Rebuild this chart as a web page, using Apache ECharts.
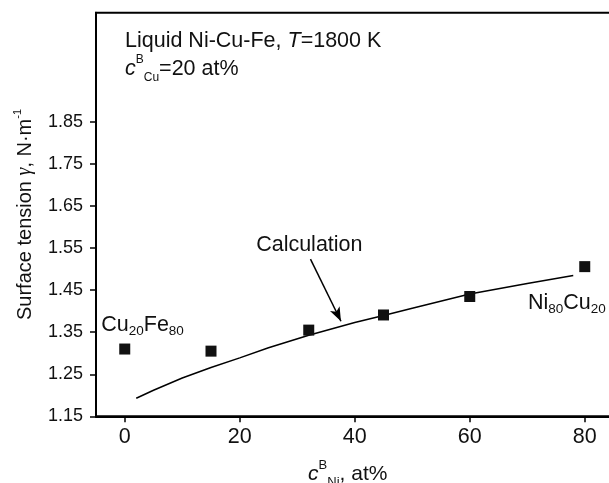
<!DOCTYPE html>
<html>
<head>
<meta charset="utf-8">
<script src="https://cdn.jsdelivr.net/npm/echarts@6/dist/echarts.min.js"></script>
<style>
  html, body { margin: 0; padding: 0; background: #fff; }
  #chart { width: 609px; height: 483px; }
</style>
</head>
<body>
<div id="chart"></div>
<script>
const FONT = '"Liberation Sans", Arial, Helvetica, sans-serif';
const INK = '#111';

// measured surface tension (squares)
const measuredNi = [0, 15, 32, 45, 60, 80];
const measuredGamma = [1.310, 1.305, 1.355, 1.391, 1.435, 1.506];

// calculated curve
const calcNi = [2, 5, 10, 15, 20, 25, 32, 40, 45, 50, 60, 70, 78];
const calcGamma = [1.193, 1.212, 1.241, 1.266, 1.289, 1.313, 1.343, 1.373, 1.390, 1.407, 1.441, 1.466, 1.485];

// tick labels
const xTicks = [0, 20, 40, 60, 80];
const yTicks = [1.15, 1.25, 1.35, 1.45, 1.55, 1.65, 1.75, 1.85];

// arrow pointing from the "Calculation" label to the curve
const arrowFrom = [32.3, 1.524];
const arrowTo = [37.6, 1.376];

// text annotations placed in data space
const noteX = [32.1, 3.1, 76.9];
const noteY = [1.558, 1.367, 1.419];
const noteText = [
  '{m|Calculation}',
  '{m|Cu}{s|20}{m|Fe}{s|80}',
  '{m|Ni}{s|80}{m|Cu}{s|20}'
];

const chart = echarts.init(document.getElementById('chart'), null, { renderer: 'canvas' });

const noteRich = {
  m: { fontFamily: FONT, fontSize: 21.5, color: INK, lineHeight: 26 },
  s: { fontFamily: FONT, fontSize: 13.5, color: INK, lineHeight: 12, verticalAlign: 'bottom' }
};

const option = {
  backgroundColor: '#fff',
  animation: false,
  grid: {
    left: 96, right: -4.5, top: 12.7, bottom: 66.7,
    show: true, borderColor: '#000', borderWidth: 2,
    outerBoundsMode: 'none'
  },
  xAxis: {
    type: 'value',
    min: -5,
    max: 85,
    splitLine: { show: false },
    axisLine: { onZero: false, lineStyle: { color: '#000', width: 2 } },
    axisTick: { customValues: xTicks, length: 6, lineStyle: { color: '#000', width: 1.5 } },
    axisLabel: {
      customValues: xTicks, margin: 10,
      fontFamily: FONT, fontSize: 21.5, color: INK
    },
    name: '{i|c}{sup|B}{sub|Ni}{m|, at%}',
    nameLocation: 'middle',
    nameGap: 43,
    nameTextStyle: {
      padding: [0, 14, 0, 0],
      rich: {
        i: { fontFamily: FONT, fontStyle: 'italic', fontSize: 21, color: INK, lineHeight: 30 },
        sup: { fontFamily: FONT, fontSize: 13, color: INK, lineHeight: 12, verticalAlign: 'top' },
        sub: { fontFamily: FONT, fontSize: 13, color: INK, lineHeight: 14, verticalAlign: 'bottom' },
        m: { fontFamily: FONT, fontSize: 21, color: INK, lineHeight: 30 }
      }
    }
  },
  yAxis: {
    type: 'value',
    min: 1.15,
    max: 2.11,
    splitLine: { show: false },
    axisLine: { onZero: false, lineStyle: { color: '#000', width: 2 } },
    axisTick: { customValues: yTicks, length: 6, lineStyle: { color: '#000', width: 1.5 } },
    axisLabel: {
      customValues: yTicks, margin: 13,
      fontFamily: FONT, fontSize: 18, color: INK,
      formatter: v => v.toFixed(2)
    },
    name: '{m|Surface tension }{g|γ}{m|, N·m}{sup|-1}',
    nameLocation: 'middle',
    nameRotate: 90,
    nameGap: 58,
    nameTextStyle: {
      rich: {
        m: { fontFamily: FONT, fontSize: 20, color: INK, lineHeight: 26 },
        g: { fontFamily: '"Liberation Serif", serif', fontStyle: 'italic', fontSize: 20, color: INK, lineHeight: 26 },
        sup: { fontFamily: FONT, fontSize: 11, color: INK, lineHeight: 10, verticalAlign: 'top' }
      }
    }
  },
  graphic: [
    {
      type: 'text', left: 125, top: 30,
      style: {
        text: '{m|Liquid Ni-Cu-Fe, }{i|T}{m|=1800 K}',
        rich: {
          m: { fontFamily: FONT, fontSize: 21.5, fill: INK, lineHeight: 24 },
          i: { fontFamily: FONT, fontStyle: 'italic', fontSize: 21.5, fill: INK, lineHeight: 24 }
        }
      }
    },
    {
      type: 'text', left: 125, top: 54,
      style: {
        text: '{i|c}{sup|B}{sub|Cu}{m|=20 at%}',
        rich: {
          i: { fontFamily: FONT, fontStyle: 'italic', fontSize: 21.5, fill: INK, lineHeight: 30 },
          sup: { fontFamily: FONT, fontSize: 12, fill: INK, lineHeight: 16, verticalAlign: 'top' },
          sub: { fontFamily: FONT, fontSize: 12, fill: INK, lineHeight: 5, verticalAlign: 'bottom' },
          m: { fontFamily: FONT, fontSize: 21.5, fill: INK, lineHeight: 30 }
        }
      }
    }
  ],
  series: [
    {
      name: 'Calculation',
      type: 'line',
      data: calcNi.map((x, i) => [x, calcGamma[i]]),
      showSymbol: false,
      lineStyle: { color: '#000', width: 1.5 },
      markLine: {
        silent: true,
        symbol: ['none', 'arrow'],
        symbolSize: [8, 14],
        label: { show: false },
        lineStyle: { color: '#000', width: 1.5, type: 'solid' },
        data: [[{ coord: arrowFrom }, { coord: arrowTo }]]
      },
      z: 2
    },
    {
      name: 'Experiment',
      type: 'scatter',
      data: measuredNi.map((x, i) => [x, measuredGamma[i]]),
      symbol: 'rect',
      symbolSize: 11,
      itemStyle: { color: '#111', opacity: 1 },
      z: 3
    },
    {
      name: 'notes',
      type: 'scatter',
      silent: true,
      symbolSize: 1,
      itemStyle: { color: 'rgba(0,0,0,0)', opacity: 1 },
      data: noteX.map((x, i) => ({
        value: [x, noteY[i]],
        label: { formatter: noteText[i] }
      })),
      label: { show: true, position: 'inside', color: INK, opacity: 1, rich: noteRich },
      z: 4
    }
  ]
};

chart.setOption(option);
</script>
</body>
</html>
